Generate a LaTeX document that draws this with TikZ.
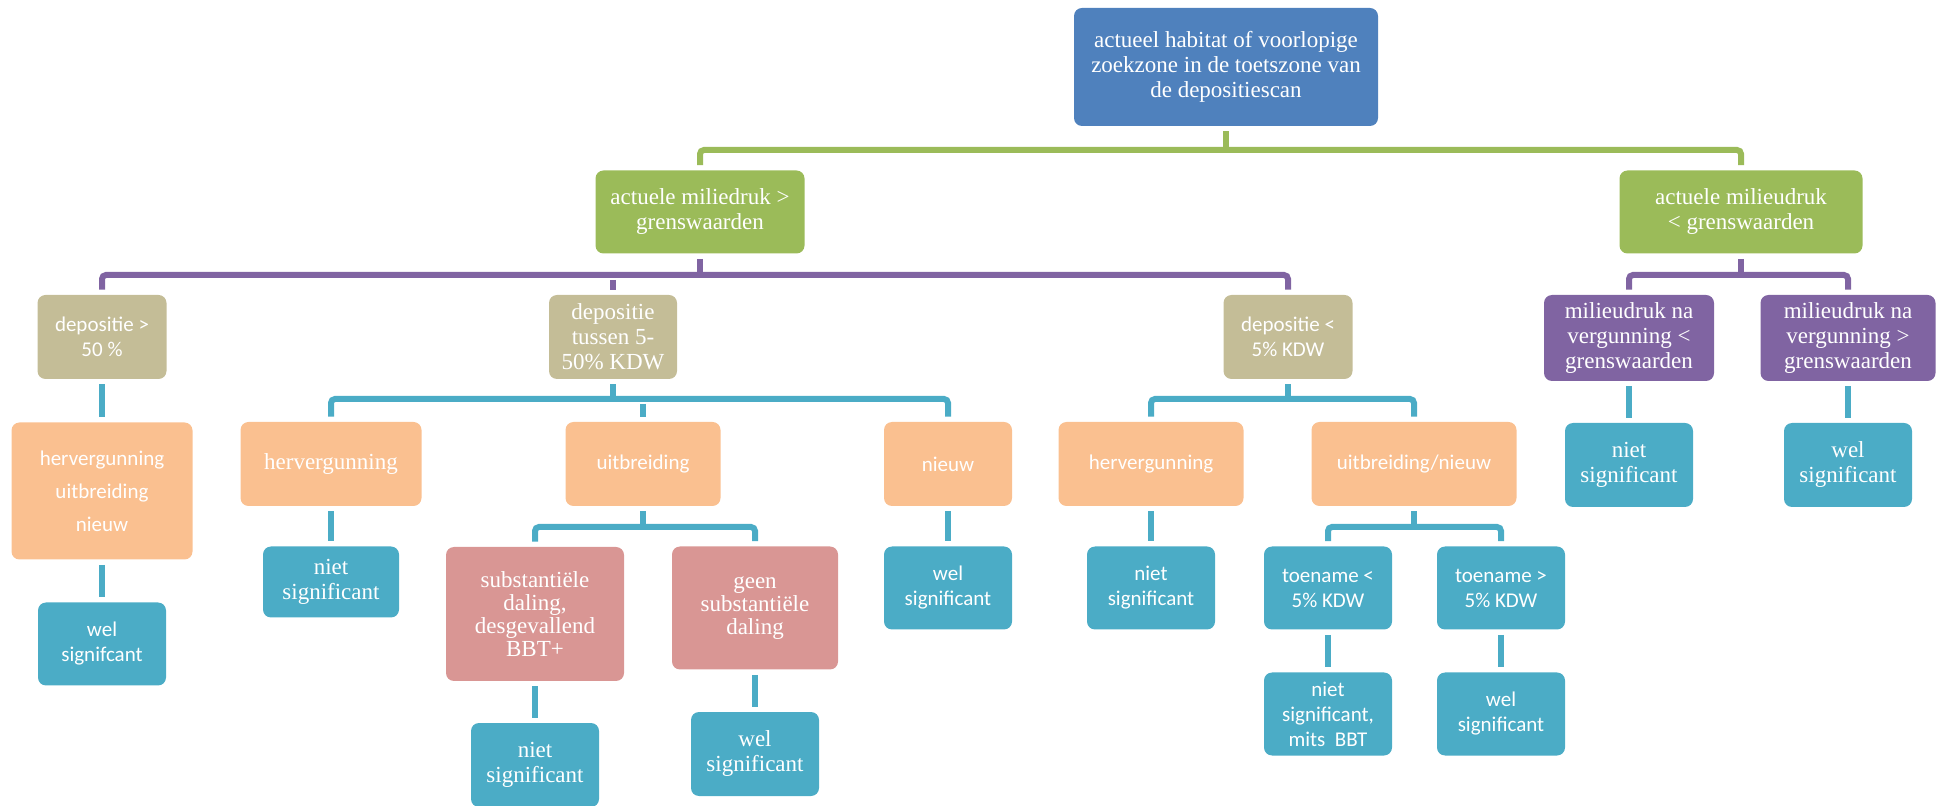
\documentclass[tikz,border=0pt]{standalone}
\usepackage{fontspec}
\setmainfont{Liberation Serif}
\newfontfamily\carlito{Carlito}
\definecolor{cRoot}{HTML}{4F81BD}
\definecolor{cGreen}{HTML}{9BBB59}
\definecolor{cTan}{HTML}{C4BD97}
\definecolor{cPurple}{HTML}{8064A2}
\definecolor{cOrange}{HTML}{FAC090}
\definecolor{cPink}{HTML}{D99694}
\definecolor{cBlue}{HTML}{4BACC6}
\tikzset{
  bx/.style={rectangle, rounded corners=4pt, inner sep=1pt, align=center, text=white},
  sz/.style 2 args={minimum width=#1*0.5pt, minimum height=#2*0.5pt},
  sf/.style={font=\fontsize{11.5}{12.5}\selectfont},
  ss/.style={font=\carlito\fontsize{10.5}{12.5}\selectfont},
  rootbox/.style={bx, fill=cRoot},
  greenbox/.style={bx, fill=cGreen},
  tanbox/.style={bx, fill=cTan},
  purplebox/.style={bx, fill=cPurple},
  orangebox/.style={bx, fill=cOrange},
  pinkbox/.style={bx, fill=cPink},
  bluebox/.style={bx, fill=cBlue},
  conn/.style={line width=3pt, rounded corners=2pt, shorten <=2.5pt, shorten >=2.5pt},
  stem/.style={line width=3pt, shorten <=2.5pt},
  gl/.style={draw=cGreen},
  pl/.style={draw=cPurple},
  bl/.style={draw=cBlue},
}
\begin{document}
\begin{tikzpicture}[x=0.5pt,y=-0.5pt]
\useasboundingbox (0,0) rectangle (1944,806);
% bus levels
\coordinate (b1) at (0,150);
\coordinate (b2) at (0,275);
\coordinate (b3) at (0,399);
\coordinate (b4) at (0,527);
% level 0/1
\node[rootbox, sf, sz={304}{118}] (root) at (1226,67) {actueel habitat of voorlopige\\zoekzone in de toetszone van\\de depositiescan};
\node[greenbox, sf, sz={209}{83}] (gL) at (700,212) {actuele miliedruk >\\grenswaarden};
\node[greenbox, sf, sz={243}{83}] (gR) at (1741,212) {actuele milieudruk\\< grenswaarden};
% level 2
\node[tanbox, ss, sz={129}{84}] (d1) at (102,337) {depositie >\\50 \%};
\node[tanbox, sf, sz={128}{84}] (d2) at (613,337) {depositie\\tussen 5-\\50\% KDW};
\node[tanbox, ss, sz={129}{84}] (d3) at (1288,337) {depositie <\\5\% KDW};
\node[purplebox, sf, sz={170}{86}] (p1) at (1629,338) {milieudruk na\\vergunning <\\grenswaarden};
\node[purplebox, sf, sz={175}{86}] (p2) at (1848,338) {milieudruk na\\vergunning >\\grenswaarden};
% level 3
\node[orangebox, font=\carlito\fontsize{10.5}{16.5}\selectfont, sz={181}{137}] (o1) at (102,491) {hervergunning\\uitbreiding\\nieuw};
\node[orangebox, sf, sz={181}{84}] (o2) at (331,464) {hervergunning};
\node[orangebox, ss, sz={155}{84}] (o3) at (643,464) {uitbreiding};
\node[orangebox, ss, sz={128}{84}] (o4) at (948,464) {nieuw};
\node[orangebox, ss, sz={185}{84}] (o5) at (1151,464) {hervergunning};
\node[orangebox, ss, sz={205}{84}] (o6) at (1414,464) {uitbreiding/nieuw};
\node[bluebox, sf, sz={128}{84}] (rb1) at (1629,465) {niet\\significant};
\node[bluebox, sf, sz={128}{84}] (rb2) at (1848,465) {wel\\significant};
% level 4
\node[bluebox, ss, sz={128}{83}] (w1) at (102,644) {wel\\signifcant};
\node[bluebox, sf, sz={136}{71}] (n1) at (331,582) {niet\\significant};
\node[pinkbox, font=\fontsize{11.5}{11.5}\selectfont, sz={178}{134}] (s1) at (535,614) {substantiële\\daling,\\desgevallend\\BBT+};
\node[pinkbox, font=\fontsize{11.5}{11.5}\selectfont, sz={166}{123}] (s2) at (755,608) {geen\\substantiële\\daling};
\node[bluebox, ss, sz={128}{83}] (w2) at (948,588) {wel\\significant};
\node[bluebox, ss, sz={128}{83}] (n2) at (1151,588) {niet\\significant};
\node[bluebox, ss, sz={128}{83}] (t1) at (1328,588) {toename <\\5\% KDW};
\node[bluebox, ss, sz={128}{83}] (t2) at (1501,588) {toename >\\5\% KDW};
% level 5
\node[bluebox, sf, sz={128}{84}] (n3) at (535,765) {niet\\significant};
\node[bluebox, sf, sz={128}{84}] (w3) at (755,754) {wel\\significant};
\node[bluebox, ss, sz={128}{83}] (n4) at (1328,714) {niet\\significant,\\mits~~BBT};
\node[bluebox, ss, sz={128}{83}] (w4) at (1501,714) {wel\\significant};
% connectors: green
\draw[stem, gl] (root.south) -- (root.south |- b1);
\draw[conn, gl] (gL.north) |- (gR.north |- b1) -- (gR.north);
% purple
\draw[stem, pl] (gL.south) -- (gL.south |- b2);
\draw[conn, pl] (d1.north) |- (d3.north |- b2) -- (d3.north);
\draw[conn, pl] (d2.north |- b2) -- (d2.north);
\draw[stem, pl] (gR.south) -- (gR.south |- b2);
\draw[conn, pl] (p1.north) |- (p2.north |- b2) -- (p2.north);
% blue
\draw[conn, bl] (d1.south) -- (o1.north);
\draw[stem, bl] (d2.south) -- (d2.south |- b3);
\draw[conn, bl] (o2.north) |- (o4.north |- b3) -- (o4.north);
\draw[conn, bl] (o3.north |- b3) -- (o3.north);
\draw[stem, bl] (d3.south) -- (d3.south |- b3);
\draw[conn, bl] (o5.north) |- (o6.north |- b3) -- (o6.north);
\draw[conn, bl] (p1.south) -- (rb1.north);
\draw[conn, bl] (p2.south) -- (rb2.north);
\draw[conn, bl] (o1.south) -- (w1.north);
\draw[conn, bl] (o2.south) -- (n1.north);
\draw[conn, bl] (o4.south) -- (w2.north);
\draw[conn, bl] (o5.south) -- (n2.north);
\draw[stem, bl] (o3.south) -- (o3.south |- b4);
\draw[conn, bl] (s1.north) |- (s2.north |- b4) -- (s2.north);
\draw[stem, bl] (o6.south) -- (o6.south |- b4);
\draw[conn, bl] (t1.north) |- (t2.north |- b4) -- (t2.north);
\draw[conn, bl] (s1.south) -- (n3.north);
\draw[conn, bl] (s2.south) -- (w3.north);
\draw[conn, bl] (t1.south) -- (n4.north);
\draw[conn, bl] (t2.south) -- (w4.north);
\end{tikzpicture}
\end{document}
